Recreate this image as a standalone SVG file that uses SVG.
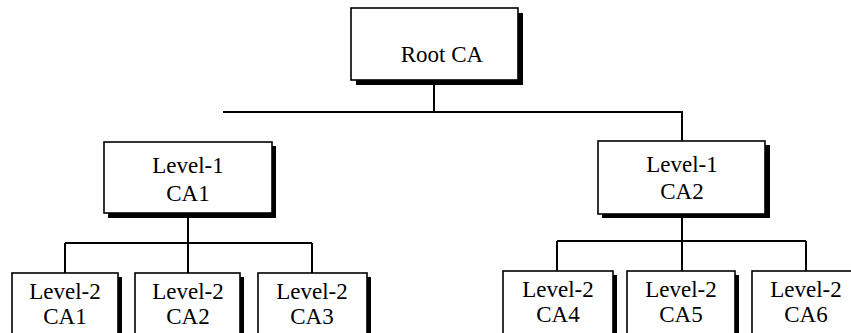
<svg xmlns="http://www.w3.org/2000/svg" width="851" height="333" viewBox="0 0 851 333">
<style>
.shadow{fill:#000}
.box{fill:#fff;stroke:#000;stroke-width:1.6}
.t{font-family:"Liberation Serif","Times New Roman",serif;font-size:23px;fill:#000;text-anchor:middle}
.c{fill:none;stroke:#000;stroke-width:2}
</style>
<rect width="851" height="333" fill="#fff"/>
<g id="connectors">
<path class="c" d="M434 85V112M223 112H682V141"/>
<path class="c" d="M188 218V243M65 243H312M65 243V273M188 243V273M312 243V273"/>
<path class="c" d="M682 218V241M557 241H806M557 241V271M682 241V271M806 241V271"/>
</g>
<g id="root">
<rect class="shadow" x="356" y="13" width="167" height="72"/>
<rect class="box" x="351" y="8" width="167" height="72"/>
<text class="t" x="442" y="62">Root CA</text>
</g>
<g id="l1ca1">
<rect class="shadow" x="108" y="146" width="168" height="72"/>
<rect class="box" x="104" y="142" width="168" height="71"/>
<text class="t" x="188" y="173">Level-1</text>
<text class="t" x="188" y="201">CA1</text>
</g>
<g id="l1ca2">
<rect class="shadow" x="602" y="145" width="168" height="73"/>
<rect class="box" x="598" y="141" width="167" height="73"/>
<text class="t" x="682" y="172">Level-1</text>
<text class="t" x="682" y="199">CA2</text>
</g>
<g id="l2ca1">
<rect class="shadow" x="16" y="277" width="106" height="70"/>
<rect class="box" x="12" y="273" width="106" height="70"/>
<text class="t" x="65" y="299">Level-2</text>
<text class="t" x="65" y="324">CA1</text>
</g>
<g id="l2ca2">
<rect class="shadow" x="139" y="277" width="105" height="70"/>
<rect class="box" x="135" y="273" width="105" height="70"/>
<text class="t" x="188" y="299">Level-2</text>
<text class="t" x="188" y="324">CA2</text>
</g>
<g id="l2ca3">
<rect class="shadow" x="262" y="277" width="109" height="70"/>
<rect class="box" x="258" y="273" width="109" height="70"/>
<text class="t" x="312" y="299">Level-2</text>
<text class="t" x="312" y="324">CA3</text>
</g>
<g id="l2ca4">
<rect class="shadow" x="507" y="275" width="110" height="70"/>
<rect class="box" x="503" y="271" width="110" height="70"/>
<text class="t" x="558" y="297">Level-2</text>
<text class="t" x="558" y="322">CA4</text>
</g>
<g id="l2ca5">
<rect class="shadow" x="631" y="275" width="108" height="70"/>
<rect class="box" x="627" y="271" width="108" height="70"/>
<text class="t" x="681" y="297">Level-2</text>
<text class="t" x="681" y="322">CA5</text>
</g>
<g id="l2ca6">
<rect class="shadow" x="756" y="275" width="108" height="70"/>
<rect class="box" x="752" y="271" width="108" height="70"/>
<text class="t" x="806" y="297">Level-2</text>
<text class="t" x="806" y="322">CA6</text>
</g>
</svg>
